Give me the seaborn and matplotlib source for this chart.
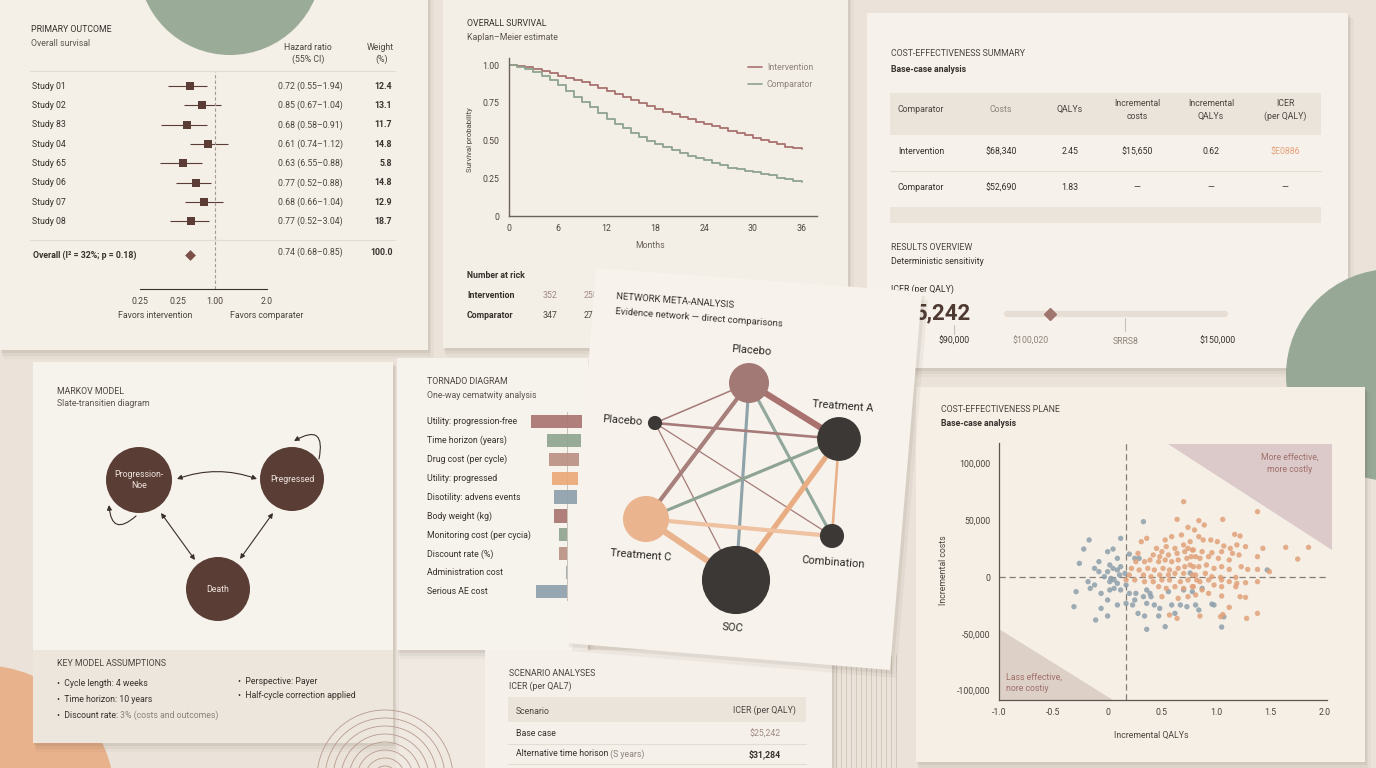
import numpy as np
import pandas as pd
import matplotlib
matplotlib.use("Agg")
import matplotlib.pyplot as plt
import matplotlib.transforms as mtransforms
from matplotlib.patches import Rectangle, Polygon, Circle, FancyArrowPatch
from matplotlib.lines import Line2D
from matplotlib.ticker import NullLocator
import seaborn as sns

# ============================ DATA ============================
# Forest plot (primary outcome)
forest_studies = ["Study 01", "Study 02", "Study 83", "Study 04", "Study 65", "Study 06", "Study 07", "Study 08"]
forest_hr = [0.63, 0.78, 0.59, 0.88, 0.55, 0.70, 0.81, 0.64]
forest_lo = [0.42, 0.56, 0.37, 0.63, 0.36, 0.48, 0.57, 0.43]
forest_hi = [0.86, 1.08, 0.86, 1.19, 0.78, 0.93, 1.11, 0.89]
forest_hr_text = ["0.72 (0.55–1.94)", "0.85 (0.67–1.04)", "0.68 (0.58–0.91)", "0.61 (0.74–1.12)",
                  "0.63 (6.55–0.88)", "0.77 (0.52–0.88)", "0.68 (0.66–1.04)", "0.77 (0.52–3.04)"]
forest_weight = ["12.4", "13.1", "11.7", "14.8", "5.8", "14.8", "12.9", "18.7"]
overall_label = "Overall (I² = 32%; p = 0.18)"
overall_hr = 0.63
overall_text = "0.74 (0.68–0.85)"
overall_weight = "100.0"
forest_ticks = [0.25, 0.5, 1.0, 2.0]
forest_ticklabels = ["0.25", "0.25", "1.00", "2.0"]

# Kaplan-Meier
km_months = list(range(37))
km_intervention = [1.00, 0.995, 0.985, 0.975, 0.963, 0.95, 0.93, 0.915, 0.90, 0.885,
                   0.87, 0.85, 0.83, 0.81, 0.79, 0.77, 0.75, 0.73, 0.71, 0.69,
                   0.675, 0.655, 0.64, 0.625, 0.61, 0.595, 0.58, 0.565, 0.55, 0.535,
                   0.515, 0.505, 0.49, 0.475, 0.46, 0.45, 0.445]
km_comparator = [1.00, 0.99, 0.975, 0.955, 0.93, 0.90, 0.865, 0.83, 0.79, 0.755,
                 0.72, 0.68, 0.64, 0.61, 0.58, 0.55, 0.525, 0.50, 0.48, 0.46,
                 0.44, 0.42, 0.40, 0.385, 0.37, 0.35, 0.335, 0.32, 0.31, 0.30,
                 0.29, 0.28, 0.27, 0.255, 0.245, 0.235, 0.225]
km_ticks_x = [0, 6, 12, 18, 24, 30, 36]
km_ticks_y = [0, 0.25, 0.50, 0.75, 1.00]
km_ticklabels_y = ["0", "0.25", "0.50", "0.75", "1.00"]
risk_arms = ["Intervention", "Comparator"]
risk_counts = [["352", "258"], ["347", "271"]]

# Cost-effectiveness summary table
ce_header = ["Comparator", "Costs", "QALYs", "Incremental\ncosts", "Incremental\nQALYs", "ICER\n(per QALY)"]
ce_row_intervention = ["Intervention", "$68,340", "2.45", "$15,650", "0.62", "$E0886"]
ce_row_comparator = ["Comparator", "$52,690", "1.83", "—", "—", "—"]
icer_headline = "5,242"
icer_value = 111800
slider_ticks = [90000, 107500, 128900, 150000]
slider_ticklabels = ["$90,000", "$100,020", "SRRS8", "$150,000"]

# Markov model
markov_states = ["Progression-\nNoe", "Pregressed", "Death"]
markov_assumptions_left = ["Cycle length: 4 weeks", "Time horizon: 10 years", "Discount rate: "]
markov_assumptions_right = ["Perspective: Payer", "Half-cycle correction applied"]

# Tornado diagram
tornado_params = ["Utility: progression-free", "Time horizon (years)", "Drug cost (per cycle)",
                  "Utility: progressed", "Disotility: advens events", "Body weight (kg)",
                  "Monitoring cost (per cycia)", "Discount rate (%)", "Administration cost",
                  "Serious AE cost"]
tornado_low = [-36, -20, -18, -15, -13, -13, -8, -8, -1, -31]
tornado_high = [15, 14, 12, 11, 10, 0, 0, 0, 0, 0]

# Network meta-analysis
nma_nodes = ["Placebo", "Placebo ", "Treatment A", "Treatment C", "Combination", "SOC"]
nma_patients = [400, 50, 480, 530, 145, 1160]
nma_edges = [(0, 2), (0, 3), (0, 5), (0, 4), (0, 1), (1, 2), (1, 4), (1, 5),
             (2, 3), (2, 5), (2, 4), (3, 4), (3, 5)]
nma_edge_trials = [6, 4, 3, 3, 1.5, 2.5, 1.2, 1.2, 3, 5, 2.5, 4, 6]

# Scenario analyses
scenario_names = ["Base case", "Alternative time horison"]
scenario_notes = ["", " (S years)"]
scenario_icers = ["$25,242", "$31,284"]

# Cost-effectiveness plane (PSA draws: incremental QALYs, incremental costs)
psa_comparator = [
    (0.33, 48700), (-0.17, 32600), (-0.22, 24600), (0.12, 34000), (0.05, 24600), (0.00, 22300),
    (-0.26, 12000), (-0.08, 13500), (0.09, 16400), (0.20, 20200), (0.25, 16400), (0.29, 16400),
    (0.02, 10600), (0.05, 7600), (-0.12, 7600), (-0.08, 4700), (0.00, 4700), (0.09, 6200),
    (0.12, 9100), (-0.03, 300), (0.03, -1200), (0.11, 1800), (0.16, 3200), (-0.18, -4100),
    (-0.12, -7000), (-0.16, -10000), (0.02, -4100), (0.06, -2600), (0.09, -5600), (0.17, -7000),
    (-0.29, -12900), (-0.06, -14400), (0.02, -11400), (0.06, -10000), (0.12, -11400), (0.20, -14400),
    (0.26, -14400), (0.36, -11400), (0.39, -14400), (0.40, -17300), (0.43, -24600), (0.48, -27600),
    (0.25, -20200), (0.33, -17300), (0.00, -20200), (0.09, -24600), (-0.31, -26100), (-0.06, -27600),
    (0.17, -23200), (0.23, -24600), (0.36, -23200), (0.28, -32000), (0.34, -34300), (0.47, -34300),
    (-0.11, -37800), (0.00, -34300), (0.36, -46000), (0.53, -43700), (0.62, -32000), (0.67, -24600),
    (0.73, -26100), (0.81, -24600), (0.70, -11400), (0.78, -12900), (0.56, -12900), (0.59, -24600),
    (1.47, 6200), (1.05, -44000), (1.07, -35000), (0.84, -29000), (0.76, 3500), (0.96, -23800),
    (0.98, -24600), (0.87, -10000),
]
psa_intervention = [
    (0.70, 66300), (0.64, 50700), (0.74, 43700), (0.36, 34000), (0.31, 31100), (0.53, 32600),
    (0.59, 35500), (0.68, 37000), (0.45, 25200), (0.50, 22300), (0.54, 26700), (0.62, 25200),
    (0.70, 28200), (0.76, 31100), (0.42, 19400), (0.48, 17900), (0.56, 19400), (0.64, 20800),
    (0.71, 22300), (0.78, 23800), (0.28, 20800), (0.26, 13500), (0.34, 13500), (0.39, 15000),
    (0.47, 13500), (0.53, 15000), (0.59, 13500), (0.65, 15000), (0.73, 16400), (0.81, 17900),
    (0.22, 7600), (0.29, 6200), (0.37, 7600), (0.43, 6200), (0.51, 7600), (0.57, 6200),
    (0.65, 7600), (0.71, 9100), (0.79, 9100), (0.20, 1800), (0.33, 1800), (0.40, 300),
    (0.48, 1800), (0.56, 1800), (0.62, 3200), (0.70, 3200), (0.78, 1800), (0.17, -2600),
    (0.25, -2600), (0.34, -4100), (0.42, -4100), (0.50, -2600), (0.57, -2600), (0.67, -4100),
    (0.74, -2600), (0.82, -2600), (0.47, -8500), (0.54, -10000), (0.62, -8500), (0.70, -10000),
    (0.79, -8500), (0.50, -17300), (0.65, -18800), (0.74, -17300), (0.57, -33400), (0.64, -36400),
    (1.38, 57500), (1.06, 50700), (0.84, 49600), (0.89, 45800), (0.80, 41400), (1.17, 37500),
    (1.22, 36100), (0.84, 35500), (0.88, 32600), (0.95, 32600), (1.01, 31100), (1.07, 27300),
    (1.13, 25200), (1.19, 28200), (1.27, 26700), (1.43, 25200), (1.64, 26100), (1.85, 26100),
    (1.75, 15800), (0.74, 25200), (0.79, 23800), (0.87, 22300), (0.96, 21400), (1.05, 22300),
    (1.15, 20800), (1.21, 19400), (1.38, 17900), (0.77, 17900), (0.85, 16400), (0.93, 17900),
    (1.02, 16400), (1.12, 15000), (0.76, 10600), (0.84, 9100), (0.91, 10600), (0.98, 7600),
    (1.05, 9100), (1.12, 6700), (1.23, 9100), (1.29, 6700), (1.38, 6700), (1.49, 4700),
    (0.81, 1800), (0.90, 3200), (0.96, 300), (1.04, -300), (1.18, -300), (1.38, -4100),
    (0.85, -4100), (0.93, -2600), (1.05, -2600), (1.12, -4100), (1.19, -5600), (1.27, -5000),
    (0.78, -8500), (0.87, -11400), (0.98, -7000), (1.05, -8500), (1.18, -8500), (0.81, -15800),
    (0.93, -14400), (1.05, -16700), (1.22, -17300), (1.27, -17900), (1.12, -26700), (1.04, -34900),
    (1.06, -33000), (0.85, -34300), (1.38, -32000), (1.28, -36400),
]
ce_mean_qaly = 0.17
cep_xticks = [-1.0, -0.5, 0, 0.5, 1.0, 1.5, 2.0]
cep_xticklabels = ["-1.0", "-0.5", "0", "0.5", "1.0", "1.5", "2.0"]
cep_yticks = [-100000, -50000, 0, 50000, 100000]
cep_yticklabels = ["-100,000", "-50,000", "0", "50,000", "100,000"]
quadrant_upper = [(0.56, 117000), (2.07, 117000), (2.07, 24000)]
quadrant_lower = [(-1.0, -46000), (-1.0, -108000), (0.05, -108000)]

# ============================ STYLE ============================
sns.set_theme(style="white")
plt.rcParams["font.family"] = ["Roboto", "DejaVu Sans"]
plt.rcParams["axes.unicode_minus"] = False

BG = "#ebe3d9"
PAPER = "#f5f0e8"
INK = "#38312d"
INK2 = "#4d4540"
MUTED = "#8c837c"
BROWN = "#5b3d35"
MAUVE = "#a9726f"
SAGE = "#8ea38f"
ORANGE = "#e2a27a"
BLUEGRAY = "#8d9fac"
FS = 6.3

W, H = 1376, 768
fig = plt.figure(figsize=(W / 100, H / 100), dpi=100)
fig.patch.set_facecolor(BG)

bg = fig.add_axes([0, 0, 1, 1], zorder=0)
bg.set_xlim(0, W)
bg.set_ylim(H, 0)
bg.axis("off")


def px_axes(x0, y0, x1, y1, z=2):
    ax = fig.add_axes([x0 / W, 1 - y1 / H, (x1 - x0) / W, (y1 - y0) / H], zorder=z)
    ax.patch.set_alpha(0)
    return ax


def panel(x0, y0, x1, y1, color=PAPER, z=10):
    for dx, dy, a in [(7, 9, 0.035), (4, 6, 0.05), (2, 3, 0.07)]:
        bg.add_patch(Rectangle((x0 + dx * 0.4, y0 + dy * 0.6), x1 - x0 + dx * 0.4, y1 - y0 + dy * 0.4,
                               facecolor="#4a3a30", alpha=a, lw=0, zorder=z - 1))
    bg.add_patch(Rectangle((x0, y0), x1 - x0, y1 - y0, facecolor=color, lw=0, zorder=z))


def T(x, y, s, size=FS, color=INK, weight="normal", ha="left", va="center", z=20, ax=None, **kw):
    return (ax or bg).text(x, y, s, fontsize=size, color=color, fontweight=weight,
                           ha=ha, va=va, zorder=z, **kw)


# ---------------- background decorations ----------------
bg.add_patch(Circle((-20, 800), 135, facecolor="#e8b28c", lw=0, zorder=5))
bg.add_patch(Rectangle((396, 650), 90, 120, facecolor="#efe9e1", lw=0, zorder=4))
for xv in np.arange(836, 900, 5):
    bg.plot([xv, xv], [655, 768], color="#d2c8bc", lw=0.7, zorder=4)

# ============================ FOREST PLOT ============================
panel(0, -5, 428, 350, "#f4efe7")
bg.add_patch(Circle((230, -37), 92, facecolor="#9aab98", lw=0, zorder=12))
T(31, 30, "PRIMARY OUTCOME")
T(31, 44, "Overall survisal", color="#5e5650")
T(308, 47, "Hazard ratio", ha="center", color=INK2)
T(308, 59, "(55% CI)", ha="center", color=INK2)
T(380, 47, "Weight", ha="center", color=INK2)
T(382, 59, "(%)", ha="center", color=INK2)
bg.plot([30, 395], [71, 71], color="#e2dbd1", lw=0.8, zorder=15)
bg.plot([30, 395], [240, 240], color="#e2dbd1", lw=0.8, zorder=15)
T(155, 316, "Favors intervention", ha="center", color=INK2)
T(267, 315, "Favors comparater", ha="center", color=INK2)


def f_fwd(x):
    l = np.log2(np.maximum(np.asarray(x, float), 1e-9))
    return np.where(l < -1, 38 + (l + 1) * 38, np.where(l < 0, 38 + (l + 1) * 37, 75 + l * 52))


def f_inv(p):
    p = np.asarray(p, float)
    l = np.where(p < 38, (p - 38) / 38 - 1, np.where(p < 75, (p - 38) / 37 - 1, (p - 75) / 52))
    return 2 ** l


fax = px_axes(140, 72, 267, 289)
fax.set_xscale("function", functions=(f_fwd, f_inv))
fax.set_xlim(0.25, 2.0)
fax.set_ylim(10.5, -0.73)
rows = np.arange(len(forest_studies))
overall_row = 8.76
fax.hlines(rows, forest_lo, forest_hi, color=BROWN, lw=0.8)
sns.scatterplot(x=forest_hr, y=rows, marker="s", s=38, color=BROWN, linewidth=0, ax=fax, zorder=3)
fax.scatter([overall_hr], [overall_row], marker="D", s=30, color="#7b5048", linewidth=0, zorder=3)
fax.axvline(1.0, color="#a39b94", lw=0.8, ls=(0, (3, 2)))
for s in ["left", "right", "top"]:
    fax.spines[s].set_visible(False)
fax.spines["bottom"].set_color(INK)
fax.spines["bottom"].set_linewidth(0.8)
fax.set_xticks(forest_ticks)
fax.set_xticklabels(forest_ticklabels)
fax.xaxis.set_minor_locator(NullLocator())
fax.tick_params(axis="x", length=3, width=0.8, color=INK, labelsize=FS, labelcolor=INK2, pad=3)
fax.set_yticks([])
ftr = mtransforms.blended_transform_factory(bg.transData, fax.transData)
for i, (name, txt, w) in enumerate(zip(forest_studies, forest_hr_text, forest_weight)):
    fax.text(32, i, name, transform=ftr, fontsize=FS, color=INK, va="center", clip_on=False)
    fax.text(278, i, txt, transform=ftr, fontsize=FS, color=INK2, va="center", clip_on=False)
    fax.text(392, i, w, transform=ftr, fontsize=FS, color=INK, va="center", ha="right",
             fontweight="bold", clip_on=False)
fax.text(33, overall_row, overall_label, transform=ftr, fontsize=FS, color=INK, va="center",
         fontweight="bold", clip_on=False)
fax.text(278, overall_row - 0.15, overall_text, transform=ftr, fontsize=FS, color=INK2, va="center", clip_on=False)
fax.text(393, overall_row - 0.15, overall_weight, transform=ftr, fontsize=FS, color=INK, va="center",
         ha="right", fontweight="bold", clip_on=False)

# ============================ KAPLAN-MEIER ============================
panel(443, -5, 848, 348, "#f3eee6")
T(467, 24, "OVERALL SURVIVAL")
T(467, 37, "Kaplan–Meier estimate", color="#5e5650")
T(467, 276, "Number at rick", weight="bold")
for r, (arm, counts) in enumerate(zip(risk_arms, risk_counts)):
    yy = 295 + 20 * r
    T(467, yy, arm, weight="bold")
    T(543, yy, counts[0], color="#a08a86" if r == 0 else INK2)
    T(584, yy, counts[1], color="#a08a86" if r == 0 else INK2)

km_df = pd.DataFrame({
    "month": km_months + km_months,
    "surv": km_intervention + km_comparator,
    "arm": ["Intervention"] * len(km_months) + ["Comparator"] * len(km_months),
})
kax = px_axes(509, 58, 817, 216)
sns.lineplot(data=km_df, x="month", y="surv", hue="arm", estimator=None,
             palette={"Intervention": MAUVE, "Comparator": SAGE}, drawstyle="steps-post",
             lw=1.3, legend=False, ax=kax)
kax.set_xlim(0, 37.9)
kax.set_ylim(0, 1.047)
kax.set_xticks(km_ticks_x)
kax.set_yticks(km_ticks_y)
kax.set_yticklabels(km_ticklabels_y)
kax.set_xlabel("")
kax.set_ylabel("")
for s in ["right", "top"]:
    kax.spines[s].set_visible(False)
for s in ["left", "bottom"]:
    kax.spines[s].set_color("#6b625c")
    kax.spines[s].set_linewidth(1.0)
kax.tick_params(length=3, width=0.8, color="#6b625c", labelsize=FS, labelcolor=INK2, pad=4)
kax.tick_params(axis="x", direction="inout", length=5, pad=3)
kax.legend(handles=[Line2D([0], [0], color=MAUVE, lw=1.2), Line2D([0], [0], color=SAGE, lw=1.2)],
           labels=["Intervention", "Comparator"], loc="upper left", bbox_to_anchor=(748, 63),
           bbox_transform=bg.transData, frameon=False, fontsize=FS, handlelength=1.6,
           handletextpad=0.55, labelspacing=0.95, borderpad=0, borderaxespad=0, labelcolor=MUTED)
T(650, 246, "Months", ha="center", color="#6b625c")
T(470, 140, "Survival probability", ha="center", rotation=90, size=5.6, color=INK2)

# ============================ CE SUMMARY ============================
panel(867, 13, 1348, 368, "#f6f1ea")
T(891, 53, "COST-EFFECTIVENESS SUMMARY", color=INK2)
T(891, 69, "Base-case analysis", weight="bold")
bg.add_patch(Rectangle((890, 93), 431, 42, facecolor="#ebe4db", lw=0, zorder=15))
bg.add_patch(Rectangle((890, 207), 431, 16, facecolor="#ebe4db", lw=0, zorder=15))
bg.plot([890, 1321], [171, 171], color="#e4ddd3", lw=0.8, zorder=15)
col_x = [898, 1001, 1070, 1137, 1211, 1285]
for j, h in enumerate(ce_header):
    T(col_x[j], 110 if "\n" in h else 109, h, ha="left" if j == 0 else "center",
      color=MUTED if j == 1 else INK2, linespacing=1.5)
for j, v in enumerate(ce_row_intervention):
    T(col_x[j], 152, v, ha="left" if j == 0 else "center",
      color="#e3a27c" if j == 5 else INK)
for j, v in enumerate(ce_row_comparator):
    T(col_x[j], 188, v, ha="left" if j == 0 else "center", color=INK)
T(891, 248, "RESULTS OVERVIEW", color=INK2)
T(891, 262, "Deterministic sensitivity", color=INK)
T(891, 289, "ICER (per QALY)", color=INK)
bg.add_patch(Circle((1392, 375), 106, facecolor="#97a896", lw=0, zorder=12))
# torn paper piece covering the headline
bg.add_patch(Polygon([(860, 293), (915, 295), (909, 368), (860, 368)], closed=True,
                     facecolor="#4a3a30", alpha=0.08, lw=0, zorder=12))
bg.add_patch(Polygon([(855, 290), (912, 292), (906, 370), (855, 370)], closed=True,
                     facecolor="#f5f0e9", lw=0, zorder=13))
T(915, 313, icer_headline, size=16, weight="bold", color="#4e3a33")

sax = px_axes(920, 304, 1240, 324)
sax.set_xlim(82273, 155000)
sax.set_ylim(-1, 1)
sax.axis("off")
sax.plot([102000, 151600], [0, 0], lw=4.5, color="#e7dfd5", solid_capstyle="round")
sax.plot([icer_value], [0], marker="D", ms=6, color="#a0766e", lw=0)
sax.plot([slider_ticks[0]] * 2, [-1.1, -2.0], color="#c9c0b6", lw=0.8, clip_on=False)
sax.plot([slider_ticks[2]] * 2, [-0.4, -1.7], color="#c9c0b6", lw=0.8, clip_on=False)
for v, lab, c in zip(slider_ticks, slider_ticklabels, [INK, MUTED, MUTED, INK]):
    sax.text(v, -2.7, lab, ha="center", va="center", fontsize=FS, color=c, clip_on=False)

# ============================ MARKOV MODEL ============================
panel(33, 362, 393, 743, "#f6f2ec")
bg.add_patch(Rectangle((33, 650), 360, 93, facecolor="#ece6dd", lw=0, zorder=11))
T(57, 392, "MARKOV MODEL", color=INK2)
T(57, 404, "Slate-transitien diagram", color="#5e5650")
markov_pos = {0: (139, 480), 1: (292, 479), 2: (218, 589)}
markov_r = [33, 32, 32]
for k, name in enumerate(markov_states):
    cx, cy = markov_pos[k]
    bg.add_patch(Circle((cx, cy), markov_r[k], facecolor="#5a3d35", lw=0, zorder=22))
    T(cx, cy, name, ha="center", color="#efe5de", z=24, linespacing=1.3)
arrow_kw = dict(color="#3a2e2a", lw=0.8, mutation_scale=7, zorder=21, shrinkA=0, shrinkB=0)
bg.add_patch(FancyArrowPatch((177, 479), (257, 479), arrowstyle="<|-|>",
                             connectionstyle="arc3,rad=-0.18", **arrow_kw))
bg.add_patch(FancyArrowPatch((161, 513), (195, 560), arrowstyle="<|-|>", **arrow_kw))
bg.add_patch(FancyArrowPatch((273, 513), (240, 559), arrowstyle="<|-|>", **arrow_kw))
bg.add_patch(FancyArrowPatch((136, 516), (109, 505), arrowstyle="-|>",
                             connectionstyle="arc3,rad=-1.0", **arrow_kw))
bg.add_patch(FancyArrowPatch((319, 459), (294, 441), arrowstyle="-|>",
                             connectionstyle="arc3,rad=1.1", **arrow_kw))
T(57, 664, "KEY MODEL ASSUMPTIONS", color=INK2)
for i, s in enumerate(markov_assumptions_left):
    t = T(57, 683 + 16 * i, "•  " + s, color=INK)
t2 = bg.annotate("3% (costs and outcomes)", xycoords=t, xy=(1, 0.5), va="center",
                 fontsize=FS, color=MUTED, zorder=20)
for i, s in enumerate(markov_assumptions_right):
    T(238, 681 + 15 * i, "•  " + s, color=INK)
for rr in np.arange(12, 70, 8):
    bg.add_patch(Circle((385, 778), rr, fill=False, edgecolor="#b89b90", lw=0.6, zorder=30))

# ============================ TORNADO ============================
panel(397, 358, 588, 650, "#f6f2ec")
T(427, 382, "TORNADO DIAGRAM", color=INK2)
T(427, 395, "One-way cematwity analysis", color="#5e5650")
tornado_colors = [MAUVE, SAGE, "#b99082", "#eba876", BLUEGRAY, MAUVE, SAGE, "#b99082", "#9aa7ae", BLUEGRAY]
tax = px_axes(520, 412, 590, 601)
tax.set_xlim(-47, 23)
tax.set_ylim(len(tornado_params) - 0.5, -0.5)
tax.axis("off")
tax.barh(np.arange(len(tornado_params)), np.array(tornado_high) - np.array(tornado_low),
         left=tornado_low, height=0.7, color=tornado_colors, alpha=0.9, lw=0)
tax.axvline(0, color="#c9c0b6", lw=0.7, zorder=0)
ttr = mtransforms.blended_transform_factory(bg.transData, tax.transData)
for i, p in enumerate(tornado_params):
    tax.text(427, i, p, transform=ttr, fontsize=FS, color=INK, va="center", clip_on=False)

# ============================ SCENARIO ANALYSES ============================
panel(485, 650, 832, 775, "#f5f0e9")
T(509, 674, "SCENARIO ANALYSES", color=INK2)
T(509, 686, "ICER (per QAL7)", color=INK2)
bg.add_patch(Rectangle((508, 697), 298, 25, facecolor="#ebe4db", lw=0, zorder=15))
T(516, 711, "Scenario", color=INK2)
T(796, 710, "ICER (per QALY)", ha="right", color=INK2)
for i, (nm, note, ic) in enumerate(zip(scenario_names, scenario_notes, scenario_icers)):
    yy = 734 + 20 * i
    t = T(516, yy, nm, color=INK)
    if note:
        bg.annotate(note, xycoords=t, xy=(1, 0.5), va="center", fontsize=FS, color=MUTED, zorder=20)
    T(765, yy, ic, ha="center", color="#a08a86" if i == 0 else INK, weight="normal" if i == 0 else "bold")
    bg.plot([508, 806], [yy + 10, yy + 10], color="#e4ddd3", lw=0.8, zorder=15)

# ============================ CE PLANE ============================
panel(916, 387, 1365, 762, "#f5efe6", z=14)
T(941, 410, "COST-EFFECTIVENESS PLANE", color=INK2)
T(941, 424, "Base-case analysis", weight="bold")
T(1151, 735, "Incremental QALYs", ha="center", color=INK2)
T(943, 570, "Incremental costs", ha="center", rotation=90, color=INK2)
psa_df = pd.DataFrame(
    [(q, c, "Comparator draws") for q, c in psa_comparator] +
    [(q, c, "Intervention draws") for q, c in psa_intervention],
    columns=["qaly", "cost", "group"])
cax = px_axes(999, 443, 1327, 700)
cax.add_patch(Polygon(quadrant_upper, closed=True, facecolor="#dccaca", lw=0, zorder=0, clip_on=False))
cax.add_patch(Polygon(quadrant_lower, closed=True, facecolor="#ddd0c7", lw=0, zorder=0, clip_on=False))
sns.scatterplot(data=psa_df, x="qaly", y="cost", hue="group",
                palette={"Comparator draws": BLUEGRAY, "Intervention draws": ORANGE},
                s=15, alpha=0.85, linewidth=0, legend=False, ax=cax, zorder=3)
cax.axhline(0, color="#857c75", lw=0.9, ls=(0, (5, 3)), zorder=2)
cax.axvline(ce_mean_qaly, color="#857c75", lw=0.9, ls=(0, (5, 3)), zorder=2)
cax.set_xlim(-1.0, 2.02)
cax.set_ylim(-108200, 117900)
cax.set_xticks(cep_xticks)
cax.set_xticklabels(cep_xticklabels)
cax.set_yticks(cep_yticks)
cax.set_yticklabels(cep_yticklabels)
cax.set_xlabel("")
cax.set_ylabel("")
for s in ["right", "top"]:
    cax.spines[s].set_visible(False)
for s in ["left", "bottom"]:
    cax.spines[s].set_color("#5d5550")
    cax.spines[s].set_linewidth(0.9)
cax.tick_params(length=3, width=0.8, color="#5d5550", labelsize=FS, labelcolor=INK2, pad=3)
cax.text(1.68, 100000, "More effective,\nmore costly", ha="center", va="center", fontsize=FS,
         color="#a0706b", linespacing=1.4)
cax.text(-0.94, -93000, "Lass effective,\nnore costiy", ha="left", va="center", fontsize=FS,
         color="#a0706b", linespacing=1.4)

# ============================ NETWORK META-ANALYSIS ============================
nax = px_axes(555, 258, 930, 680, z=3)
nax.set_xlim(555, 930)
nax.set_ylim(680, 258)
nax.axis("off")
paper_poly = [(596, 268), (922, 292), (890, 670), (566, 643)]
for dx, dy, a in [(6, 8, 0.05), (3, 4, 0.07)]:
    nax.add_patch(Polygon([(x + dx, y + dy) for x, y in paper_poly], closed=True,
                          facecolor="#4a3a30", alpha=a, lw=0, zorder=0))
nax.add_patch(Polygon(paper_poly, closed=True, facecolor="#f7f3ec", lw=0, zorder=1))
ROT = -4.3
nax.text(616, 297, "NETWORK META-ANALYSIS", fontsize=6.8, color=INK, rotation=ROT,
         rotation_mode="anchor", va="center", zorder=5)
nax.text(615, 312, "Evidence network — direct comparisons", fontsize=6.8, color=INK, rotation=ROT,
         rotation_mode="anchor", va="center", zorder=5)
nma_layout = {0: (749, 383), 1: (655, 423), 2: (839, 439), 3: (646, 519), 4: (832, 536), 5: (736, 580)}
nma_label_pos = {0: (751, 351), 1: (622, 421), 2: (843, 406), 3: (641, 555), 4: (833, 562), 5: (732, 628)}
nma_node_colors = ["#a37975", "#3b3836", "#3b3836", "#eab48e", "#3b3836", "#3b3836"]
nma_edge_colors = [MAUVE, "#a7807c", "#8fa3aa", "#93a89c", "#a57a78", "#a57a78", "#a57a78", "#a57a78",
                   "#8fa392", "#e8ad83", "#eab08a", "#efc2a2", "#e9b48d"]
for (a, b), n, c in zip(nma_edges, nma_edge_trials, nma_edge_colors):
    (x1, y1), (x2, y2) = nma_layout[a], nma_layout[b]
    nax.plot([x1, x2], [y1, y2], color=c, lw=n * 0.75, solid_capstyle="butt", zorder=2)
for k, name in enumerate(nma_nodes):
    r = np.sqrt(nma_patients[k]) * 1.0
    nax.add_patch(Circle(nma_layout[k], r, facecolor=nma_node_colors[k], lw=0, zorder=3))
    lx, ly = nma_label_pos[k]
    nax.text(lx, ly, name.strip(), fontsize=8, color="#2b2725", ha="center", va="center",
             rotation=ROT, zorder=5)

fig.savefig("out.png", dpi=100, facecolor=fig.get_facecolor())
